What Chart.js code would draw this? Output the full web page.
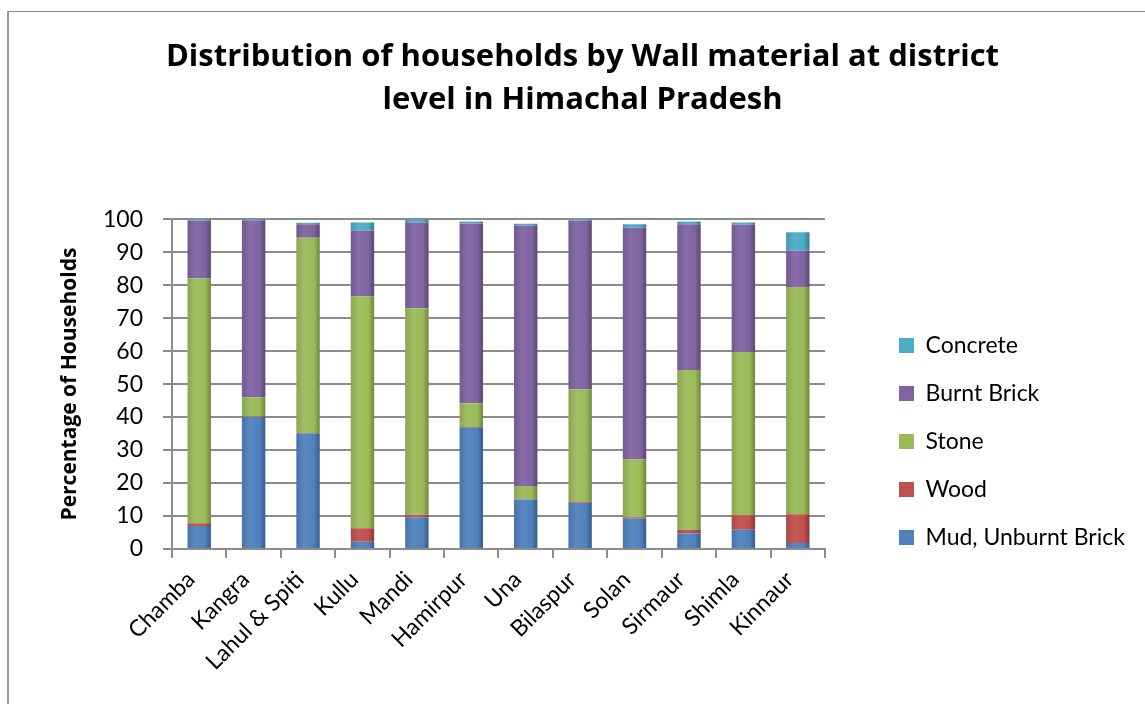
<!DOCTYPE html>
<html>
<head>
<meta charset="utf-8">
<script src="https://cdn.jsdelivr.net/npm/chart.js@4.4.1/dist/chart.umd.min.js"></script>
<style>
html, body { margin: 0; padding: 0; background: #fff; overflow: hidden; }
#wrap { position: relative; width: 1145px; height: 704px; }
#frame { position: absolute; left: 7px; top: 11px; width: 1200px; height: 800px;
  border-top: 1px solid #8a8a8a; border-left: 2px solid #9a9a9a; }
#chart { position: absolute; left: 0; top: 0; }
</style>
</head>
<body>
<div id="wrap">
  <div id="frame"></div>
  <canvas id="chart" width="1145" height="704"></canvas>
</div>
<script>
// districts and % of households by wall material
const districts = ['Chamba', 'Kangra', 'Lahul & Spiti', 'Kullu', 'Mandi', 'Hamirpur', 'Una', 'Bilaspur', 'Solan', 'Sirmaur', 'Shimla', 'Kinnaur'];
const mud        = [7.0, 40.0, 35.0, 2.2, 9.6, 36.8, 15.0, 14.0, 9.3, 4.8, 5.8, 1.8];
const wood       = [0.8, 0.2, 0.2, 4.1, 0.8, 0.2, 0.1, 0.4, 0.3, 1.0, 4.4, 8.7];
const stone      = [74.2, 5.7, 59.2, 70.3, 62.6, 7.2, 4.0, 34.0, 17.5, 48.5, 49.5, 68.9];
const burntBrick = [17.5, 53.8, 4.1, 20.0, 26.0, 54.5, 79.0, 51.1, 70.4, 44.2, 38.6, 11.0];
const concrete   = [0.5, 0.3, 0.4, 2.4, 1.0, 0.6, 0.5, 0.5, 1.0, 0.8, 0.7, 5.6];
const yTicks = [0, 10, 20, 30, 40, 50, 60, 70, 80, 90, 100];
const colors = ['#4F81BD', '#C0504D', '#9BBB59', '#8064A2', '#4BACC6'];

const FONT = 'Lato, "Open Sans", sans-serif';
const BOLD = '"Open Sans", Lato, sans-serif';
const GRID = '#8c8c8c';

function shade(hex, f) {
  let r = parseInt(hex.slice(1, 3), 16), g = parseInt(hex.slice(3, 5), 16), b = parseInt(hex.slice(5, 7), 16);
  if (f < 0) { r *= 1 + f; g *= 1 + f; b *= 1 + f; }
  else { r += (255 - r) * f; g += (255 - g) * f; b += (255 - b) * f; }
  return 'rgb(' + Math.round(r) + ',' + Math.round(g) + ',' + Math.round(b) + ')';
}

// cylinder-ish fill
function cyl(base) {
  return function(c) {
    const chart = c.chart;
    if (c.type !== 'data' || !chart.scales.x || !chart.chartArea) return base;
    const cx = chart.scales.x.getPixelForValue(c.dataIndex);
    const g = chart.ctx.createLinearGradient(cx - 12, 0, cx + 12, 0);
    g.addColorStop(0, shade(base, -0.12));
    g.addColorStop(0.35, shade(base, 0.06));
    g.addColorStop(0.75, base);
    g.addColorStop(1, shade(base, -0.3));
    return g;
  };
}

function ds(label, data, i) {
  return { label: label, data: data, backgroundColor: cyl(colors[i]), borderWidth: 0,
           barPercentage: 0.43, categoryPercentage: 1 };
}

// place the legend like the original: boxes start at x=896
const legendPlace = {
  id: 'legendPlace',
  beforeLayout(chart) {
    const lg = chart.legend;
    if (lg && !lg._fixed) {
      const orig = lg.fit.bind(lg);
      lg.fit = function() { orig(); this.width = 1145 - 825; };
      lg._fixed = true;
    }
  },
  afterLayout(chart) {
    const lg = chart.legend;
    if (!lg) return;
    const w = lg.width, h = lg.height;
    lg.left = 874; lg.right = 874 + w;
    lg.top = 309; lg.bottom = 309 + h;
  }
};

new Chart(document.getElementById('chart'), {
  type: 'bar',
  data: {
    labels: districts,
    datasets: [
      ds('Mud, Unburnt Brick', mud, 0),
      ds('Wood', wood, 1),
      ds('Stone', stone, 2),
      ds('Burnt Brick', burntBrick, 3),
      ds('Concrete', concrete, 4)
    ]
  },
  options: {
    responsive: false,
    animation: false,
    layout: { padding: { left: 20, right: 0, top: 0, bottom: 0 } },
    plugins: {
      title: {
        display: true,
        text: ['Distribution of households by Wall material at district', 'level in Himachal Pradesh'],
        color: '#000',
        font: { family: BOLD, size: 31, weight: 'bold', lineHeight: 1.39 },
        padding: { top: 36, bottom: 97 }
      },
      legend: {
        position: 'right',
        reverse: true,
        align: 'start',
        labels: {
          color: '#000',
          font: { family: FONT, size: 23 },
          boxWidth: 15, boxHeight: 15,
          padding: 25,
          generateLabels(chart) {
            return chart.data.datasets.map((d, i) => ({
              text: d.label, fillStyle: colors[i], strokeStyle: colors[i], lineWidth: 0,
              hidden: false, datasetIndex: i, fontColor: '#000'
            }));
          }
        }
      },
      tooltip: { enabled: false }
    },
    scales: {
      x: {
        stacked: true,
        afterFit(s) { s.height = 704 - 549; },
        border: { display: true, color: GRID, width: 2 },
        grid: { display: true, offset: true, drawOnChartArea: false, color: GRID, lineWidth: 2, tickLength: 9 },
        ticks: { color: '#000', font: { family: FONT, size: 23 }, minRotation: 45, maxRotation: 45,
                 autoSkip: false, padding: 8, labelOffset: -8 }
      },
      y: {
        stacked: true,
        min: 0, max: 100,
        afterFit(s) { s.width = 152; },
        afterBuildTicks(s) { s.ticks = yTicks.map(v => ({ value: v })); },
        border: { display: true, color: GRID, width: 2 },
        grid: { color: GRID, lineWidth: 2, tickLength: 9 },
        ticks: { color: '#000', font: { family: FONT, size: 23 }, padding: 20 },
        title: {
          display: true,
          text: 'Percentage of Households',
          color: '#000',
          font: { family: BOLD, size: 21, weight: 'bold' },
          padding: { top: 37, bottom: 0 }
        }
      }
    }
  },
  plugins: [legendPlace]
});
</script>
</body>
</html>
